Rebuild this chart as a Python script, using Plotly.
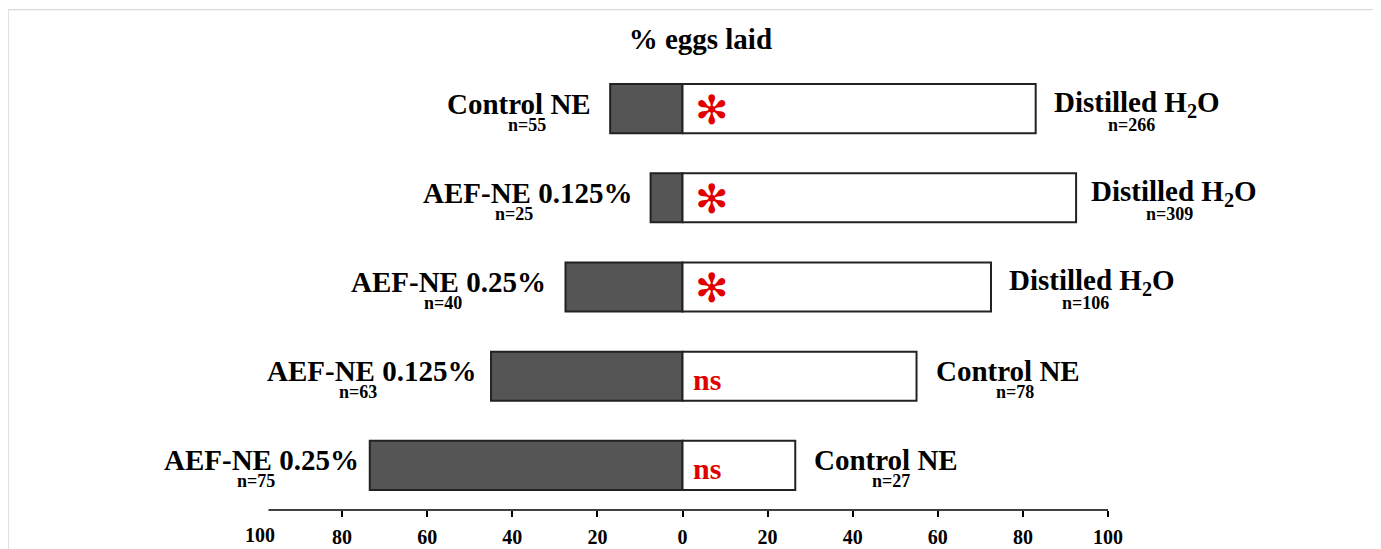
import plotly.graph_objects as go

# ---------------- data ----------------
LEFT_GROUPS = ["Control NE", "AEF-NE 0.125%", "AEF-NE 0.25%", "AEF-NE 0.125%", "AEF-NE 0.25%"]
LEFT_N = ["n=55", "n=25", "n=40", "n=63", "n=75"]
LEFT_PCT = [17, 7.5, 27.5, 45, 73.5]

RIGHT_GROUPS = ["Distilled H<sub>2</sub>O", "Distilled H<sub>2</sub>O", "Distilled H<sub>2</sub>O",
                "Control NE", "Control NE"]
RIGHT_N = ["n=266", "n=309", "n=106", "n=78", "n=27"]
RIGHT_PCT = [83, 92.5, 72.5, 55, 26.5]

SIGNIF = ["✻", "✻", "✻", "ns", "ns"]

TICK_VALUES = [-80, -60, -40, -20, 0, 20, 40, 60, 80, 100]
TICK_TEXT = ["80", "60", "40", "20", "0", "20", "40", "60", "80", "100"]
LEFT_END_LABEL = "100"
TITLE = "% eggs laid"

# ---------------- style ----------------
FONT = "Liberation Serif"
ROWS = list(range(len(LEFT_PCT)))
LEFT_GAP = [17, 17, 17, 13, 9]
RIGHT_GAP = [16, 13, 16, 17, 17]
LEFT_N_SHIFT = [-83, -137, -122, -133, -114]
RIGHT_N_SHIFT = [96, 93, 95, 98, 96]
RED = "#e00000"
BIG = 29

# page body has an 8px margin -> figure is drawn from (8, 8)
W, H = 1373, 541
ML, MR, MT, MB = 249.3, 272.7, 56, 38.5
PW, PH = W - ML - MR, H - MT - MB

fig = go.Figure()
fig.add_trace(go.Bar(
    y=ROWS, x=[-v for v in LEFT_PCT], orientation="h",
    marker=dict(color="#555555", line=dict(color="#222222", width=2)),
    hoverinfo="skip", showlegend=False,
))
fig.add_trace(go.Bar(
    y=ROWS, x=RIGHT_PCT, orientation="h",
    marker=dict(color="white", line=dict(color="#222222", width=2)),
    hoverinfo="skip", showlegend=False,
))

ann = []
for i in ROWS:
    ann.append(dict(x=-LEFT_PCT[i], y=i, xref="x", yref="y", text=LEFT_GROUPS[i],
                    xanchor="right", yanchor="middle", xshift=-LEFT_GAP[i], yshift=5,
                    showarrow=False, font=dict(family=FONT, size=BIG, color="black", weight="bold")))
    ann.append(dict(x=-LEFT_PCT[i], y=i, xref="x", yref="y", text=LEFT_N[i],
                    xanchor="center", yanchor="middle", xshift=LEFT_N_SHIFT[i], yshift=-16,
                    showarrow=False, font=dict(family=FONT, size=18, color="black", weight="bold")))
    ann.append(dict(x=RIGHT_PCT[i], y=i, xref="x", yref="y", text=RIGHT_GROUPS[i],
                    xanchor="left", yanchor="middle", xshift=RIGHT_GAP[i], yshift=5,
                    showarrow=False, font=dict(family=FONT, size=BIG, color="black", weight="bold")))
    ann.append(dict(x=RIGHT_PCT[i], y=i, xref="x", yref="y", text=RIGHT_N[i],
                    xanchor="center", yanchor="middle", xshift=RIGHT_N_SHIFT[i], yshift=-16,
                    showarrow=False, font=dict(family=FONT, size=18, color="black", weight="bold")))
    if SIGNIF[i] == "✻":
        ann.append(dict(x=0, y=i, xref="x", yref="y", text=SIGNIF[i],
                        xanchor="center", yanchor="middle", xshift=29, yshift=-1,
                        showarrow=False, font=dict(family="DejaVu Sans", size=40, color=RED)))
    else:
        ann.append(dict(x=0, y=i, xref="x", yref="y", text=SIGNIF[i],
                        xanchor="left", yanchor="middle", xshift=8, yshift=-3,
                        showarrow=False, font=dict(family=FONT, size=30, color=RED, weight="bold")))

# left-end "100" label (no tick in the original)
ann.append(dict(x=-100, y=0, xref="x", yref="paper", text=LEFT_END_LABEL,
                xanchor="center", yanchor="middle", xshift=3, yshift=-25,
                showarrow=False, font=dict(family=FONT, size=20, color="black", weight="bold")))

fig.update_layout(
    width=W, height=H,
    margin=dict(l=ML, r=MR, t=MT, b=MB, pad=0, autoexpand=False),
    paper_bgcolor="white", plot_bgcolor="white",
    barmode="overlay", bargap=0.45,
    title=dict(text=TITLE, x=0.521, xref="paper", xanchor="center",
               y=1 - 31 / H, yanchor="middle",
               font=dict(family=FONT, size=BIG, color="black", weight="bold")),
    xaxis=dict(range=[-100, 100], tickvals=TICK_VALUES, ticktext=TICK_TEXT,
               showgrid=False, zeroline=False, showline=False, automargin=False,
               ticks="outside", ticklen=6, tickwidth=1.5, tickcolor="black",
               ticklabelstandoff=3,
               tickfont=dict(family=FONT, size=20, color="black", weight="bold"),
               fixedrange=True),
    yaxis=dict(range=[4.5, -0.5], showgrid=False, zeroline=False, showline=False,
               showticklabels=False, ticks="", automargin=False, fixedrange=True),
    annotations=ann,
    shapes=[
        dict(type="line", xref="x", yref="paper", x0=-97.3, x1=100, y0=0, y1=0,
             line=dict(color="black", width=1.5)),
        dict(type="rect", xref="paper", yref="paper",
             x0=(0.5 - ML) / PW, x1=(1367.5 - ML) / PW,
             y0=-0.5, y1=1 + (MT - 1.5) / PH,
             line=dict(color="#d9d9d9", width=1.2), fillcolor="rgba(0,0,0,0)", layer="below"),
    ],
)

fig.write_html("out.html")
